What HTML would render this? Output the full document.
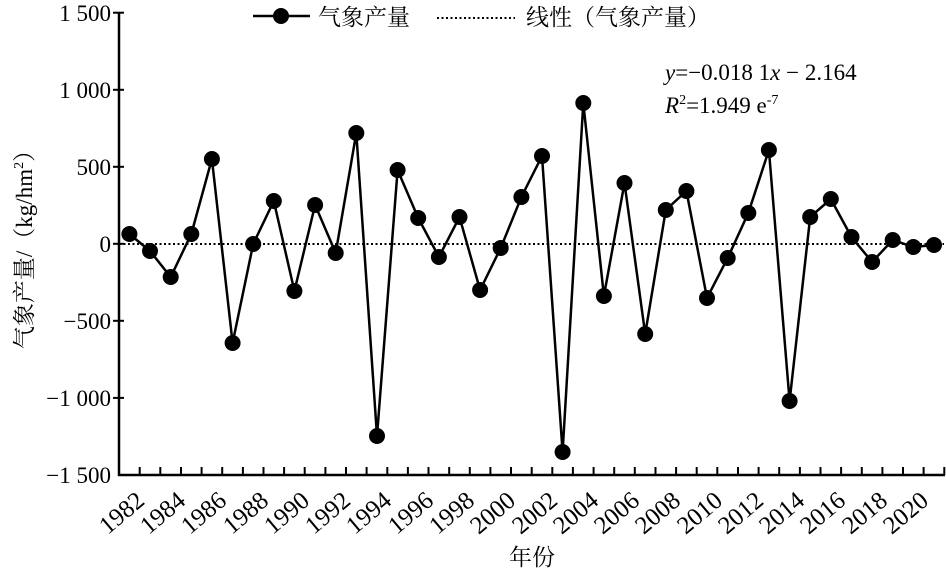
<!DOCTYPE html>
<html><head><meta charset="utf-8"><style>
body{margin:0;background:#fff}
svg{display:block}
</style></head><body>
<svg width="946" height="577" viewBox="0 0 946 577" xmlns="http://www.w3.org/2000/svg" font-family="Liberation Serif, Times New Roman, serif">
<g stroke="#000" stroke-width="2.5" fill="none">
<line x1="119" y1="12" x2="119" y2="476"/>
<line x1="118" y1="475" x2="945" y2="475"/>
</g>
<g stroke="#000" stroke-width="2">
<line x1="113" y1="12.7" x2="124" y2="12.7"/>
<line x1="113" y1="89.8" x2="124" y2="89.8"/>
<line x1="113" y1="166.8" x2="124" y2="166.8"/>
<line x1="113" y1="243.8" x2="124" y2="243.8"/>
<line x1="113" y1="320.8" x2="124" y2="320.8"/>
<line x1="113" y1="397.9" x2="124" y2="397.9"/>
</g>
<g stroke="#000" stroke-width="2">
<line x1="139.7" y1="467" x2="139.7" y2="475"/><line x1="160.3" y1="467" x2="160.3" y2="475"/><line x1="181" y1="467" x2="181" y2="475"/><line x1="201.6" y1="467" x2="201.6" y2="475"/><line x1="222.2" y1="467" x2="222.2" y2="475"/><line x1="242.9" y1="467" x2="242.9" y2="475"/><line x1="263.5" y1="467" x2="263.5" y2="475"/><line x1="284.1" y1="467" x2="284.1" y2="475"/><line x1="304.7" y1="467" x2="304.7" y2="475"/><line x1="325.4" y1="467" x2="325.4" y2="475"/><line x1="346" y1="467" x2="346" y2="475"/><line x1="366.6" y1="467" x2="366.6" y2="475"/><line x1="387.3" y1="467" x2="387.3" y2="475"/><line x1="407.9" y1="467" x2="407.9" y2="475"/><line x1="428.5" y1="467" x2="428.5" y2="475"/><line x1="449.2" y1="467" x2="449.2" y2="475"/><line x1="469.8" y1="467" x2="469.8" y2="475"/><line x1="490.4" y1="467" x2="490.4" y2="475"/><line x1="511" y1="467" x2="511" y2="475"/><line x1="531.7" y1="467" x2="531.7" y2="475"/><line x1="552.3" y1="467" x2="552.3" y2="475"/><line x1="572.9" y1="467" x2="572.9" y2="475"/><line x1="593.6" y1="467" x2="593.6" y2="475"/><line x1="614.2" y1="467" x2="614.2" y2="475"/><line x1="634.8" y1="467" x2="634.8" y2="475"/><line x1="655.5" y1="467" x2="655.5" y2="475"/><line x1="676.1" y1="467" x2="676.1" y2="475"/><line x1="696.7" y1="467" x2="696.7" y2="475"/><line x1="717.3" y1="467" x2="717.3" y2="475"/><line x1="738" y1="467" x2="738" y2="475"/><line x1="758.6" y1="467" x2="758.6" y2="475"/><line x1="779.2" y1="467" x2="779.2" y2="475"/><line x1="799.9" y1="467" x2="799.9" y2="475"/><line x1="820.5" y1="467" x2="820.5" y2="475"/><line x1="841.1" y1="467" x2="841.1" y2="475"/><line x1="861.8" y1="467" x2="861.8" y2="475"/><line x1="882.4" y1="467" x2="882.4" y2="475"/><line x1="903" y1="467" x2="903" y2="475"/><line x1="923.6" y1="467" x2="923.6" y2="475"/><line x1="944.3" y1="467" x2="944.3" y2="475"/>
</g>
<g font-size="23" text-anchor="end" font-family="Liberation Serif, serif">
<text x="111" y="21">1 500</text>
<text x="111" y="98">1 000</text>
<text x="111" y="175">500</text>
<text x="111" y="252">0</text>
<text x="111" y="329">−500</text>
<text x="111" y="406">−1 000</text>
<text x="111" y="483">−1 500</text>
</g>
<g font-size="25" text-anchor="end" font-family="Liberation Serif, serif">
<text transform="translate(146,503) rotate(-40)">1982</text>
<text transform="translate(187,503) rotate(-40)">1984</text>
<text transform="translate(228,503) rotate(-40)">1986</text>
<text transform="translate(270,503) rotate(-40)">1988</text>
<text transform="translate(311,503) rotate(-40)">1990</text>
<text transform="translate(352,503) rotate(-40)">1992</text>
<text transform="translate(393,503) rotate(-40)">1994</text>
<text transform="translate(435,503) rotate(-40)">1996</text>
<text transform="translate(476,503) rotate(-40)">1998</text>
<text transform="translate(517,503) rotate(-40)">2000</text>
<text transform="translate(559,503) rotate(-40)">2002</text>
<text transform="translate(600,503) rotate(-40)">2004</text>
<text transform="translate(641,503) rotate(-40)">2006</text>
<text transform="translate(682,503) rotate(-40)">2008</text>
<text transform="translate(724,503) rotate(-40)">2010</text>
<text transform="translate(765,503) rotate(-40)">2012</text>
<text transform="translate(806,503) rotate(-40)">2014</text>
<text transform="translate(847,503) rotate(-40)">2016</text>
<text transform="translate(889,503) rotate(-40)">2018</text>
<text transform="translate(930,503) rotate(-40)">2020</text>
</g>
<text x="532" y="565" font-size="23" font-family="Liberation Serif, Noto Serif CJK SC, serif" text-anchor="middle">年份</text>
<text transform="translate(32,244) rotate(-90)" font-size="23" font-family="Liberation Serif, Noto Serif CJK SC, serif" text-anchor="middle">气象产量/（kg/hm<tspan font-size="14" dy="-9">2</tspan><tspan dy="9">）</tspan></text>
<line x1="119" y1="244" x2="944" y2="244" stroke="#000" stroke-width="2" stroke-dasharray="2,2.5"/>
<polyline fill="none" stroke="#000" stroke-width="2.5" points="129.4,234 150,251 170.7,277 191.3,234 211.9,159 232.6,343 253.2,244 273.8,201 294.4,291 315.1,205 335.7,253 356.3,133 377,436 397.6,170 418.2,218 438.9,257 459.5,217 480.1,290 500.7,248 521.4,197 542,156 562.6,452 583.3,103 603.9,296 624.5,183 645.2,334 665.8,210 686.4,191 707,298 727.7,258 748.3,213 768.9,150 789.6,401 810.2,217 830.8,199 851.5,237 872.1,262 892.7,240 913.3,247 934,245"/>
<g fill="#000">
<circle cx="129.4" cy="234" r="8"/><circle cx="150" cy="251" r="8"/><circle cx="170.7" cy="277" r="8"/><circle cx="191.3" cy="234" r="8"/><circle cx="211.9" cy="159" r="8"/><circle cx="232.6" cy="343" r="8"/><circle cx="253.2" cy="244" r="8"/><circle cx="273.8" cy="201" r="8"/><circle cx="294.4" cy="291" r="8"/><circle cx="315.1" cy="205" r="8"/><circle cx="335.7" cy="253" r="8"/><circle cx="356.3" cy="133" r="8"/><circle cx="377" cy="436" r="8"/><circle cx="397.6" cy="170" r="8"/><circle cx="418.2" cy="218" r="8"/><circle cx="438.9" cy="257" r="8"/><circle cx="459.5" cy="217" r="8"/><circle cx="480.1" cy="290" r="8"/><circle cx="500.7" cy="248" r="8"/><circle cx="521.4" cy="197" r="8"/><circle cx="542" cy="156" r="8"/><circle cx="562.6" cy="452" r="8"/><circle cx="583.3" cy="103" r="8"/><circle cx="603.9" cy="296" r="8"/><circle cx="624.5" cy="183" r="8"/><circle cx="645.2" cy="334" r="8"/><circle cx="665.8" cy="210" r="8"/><circle cx="686.4" cy="191" r="8"/><circle cx="707" cy="298" r="8"/><circle cx="727.7" cy="258" r="8"/><circle cx="748.3" cy="213" r="8"/><circle cx="768.9" cy="150" r="8"/><circle cx="789.6" cy="401" r="8"/><circle cx="810.2" cy="217" r="8"/><circle cx="830.8" cy="199" r="8"/><circle cx="851.5" cy="237" r="8"/><circle cx="872.1" cy="262" r="8"/><circle cx="892.7" cy="240" r="8"/><circle cx="913.3" cy="247" r="8"/><circle cx="934" cy="245" r="8"/>
</g>
<line x1="253" y1="16" x2="310" y2="16" stroke="#000" stroke-width="2.5"/>
<circle cx="281" cy="16" r="8" fill="#000"/>
<text x="318" y="25" font-size="23" font-family="Liberation Serif, Noto Serif CJK SC, serif">气象产量</text>
<line x1="437" y1="18" x2="515" y2="18" stroke="#000" stroke-width="2" stroke-dasharray="2,2.5"/>
<text x="526" y="25" font-size="23" font-family="Liberation Serif, Noto Serif CJK SC, serif">线性（气象产量）</text>
<g font-size="23" font-family="Liberation Serif, serif">
<text x="665" y="80"><tspan font-style="italic">y</tspan>=−0.018 1<tspan font-style="italic">x</tspan> − 2.164</text>
<text x="665" y="113"><tspan font-style="italic">R</tspan><tspan font-size="14" dy="-9">2</tspan><tspan dy="9">=1.949 e</tspan><tspan font-size="14" dy="-9">-7</tspan></text>
</g>
</svg>
</body></html>
